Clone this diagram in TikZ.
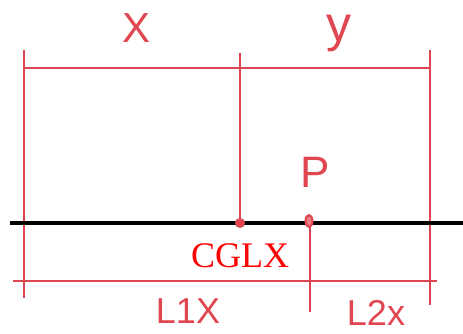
\documentclass[tikz,border=0pt]{standalone}
\usepackage{fontspec}
\setmainfont{Liberation Serif}
\newfontfamily\handfont{Liberation Sans}

\begin{document}
\begin{tikzpicture}[x=1pt,y=-1pt]
\definecolor{cdim}{RGB}{224,70,80}
\definecolor{cglx}{RGB}{255,0,0}
\tikzset{dimline/.style={cdim,line width=2pt},
  handlbl/.style={text=cdim,inner sep=0pt,font=\handfont\fontsize{36}{36}\selectfont}}
\useasboundingbox (0,0) rectangle (463,334);
% top dimension
\draw[dimline] (24,68) -- (431,68);
\draw[dimline] (24,50) -- (24,298);
\draw[dimline] (240,53) -- (240,223);
\draw[dimline] (430,50) -- (430,305);
\node[handlbl,font=\handfont\fontsize{42}{42}\selectfont] (lblx) at (137,28) {X};
\node[handlbl,anchor=base,font=\handfont\fontsize{50}{50}\selectfont] (lbly) at (339,42) {y};
% axis
\draw[black,line width=4pt] (10,223) -- (463,223);
\fill[cdim] (240,223) circle (5);
\draw[cdim,line width=2pt,fill=cdim!70] (309,221) ellipse (3.5 and 6);
\node[handlbl,font=\handfont\fontsize{44}{44}\selectfont] (lblp) at (315,172) {P};
\node[inner sep=0pt,text=cglx,font=\fontsize{36}{36}\selectfont] (cglx) at (240,256) {CGLX};
% bottom dimension
\draw[dimline] (310,227) -- (310,312);
\draw[dimline] (13,281) -- (437,281);
\node[handlbl] (lbll1) at (188,311) {L1X};
\node[handlbl] (lbll2) at (376,313) {L2x};
\end{tikzpicture}
\end{document}
